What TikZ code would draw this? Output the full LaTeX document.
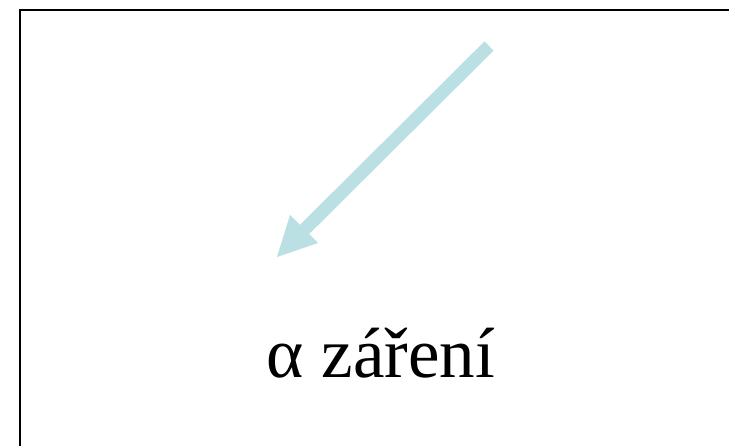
\documentclass[tikz,border=0pt]{standalone}
\usepackage{fontspec}
\setmainfont{Liberation Serif}
\definecolor{arrowblue}{HTML}{BBE0E3}
\tikzset{
  frame/.style={draw=black, line width=2.2pt},
  shaft/.style={draw=arrowblue, line width=13pt},
  head/.style={fill=arrowblue, draw=none},
  label/.style={font=\fontsize{71}{80}\selectfont, inner sep=0pt, anchor=base}
}
\begin{document}
\begin{tikzpicture}[x=1pt,y=-1pt]
\useasboundingbox (0,0) rectangle (729,446);
\draw[frame] (20,10) rectangle (760,480);
\coordinate (start) at (489,46);
\coordinate (neck) at (302,232);
\coordinate (tip) at (277,257);
\coordinate (wl) at (290,215);
\coordinate (wr) at (318,243);
\draw[shaft] (start) -- (neck);
\fill[head] (tip) -- (wl) -- (wr) -- cycle;
\node[label] (txt) at (381,378) {α záření};
\end{tikzpicture}
\end{document}
